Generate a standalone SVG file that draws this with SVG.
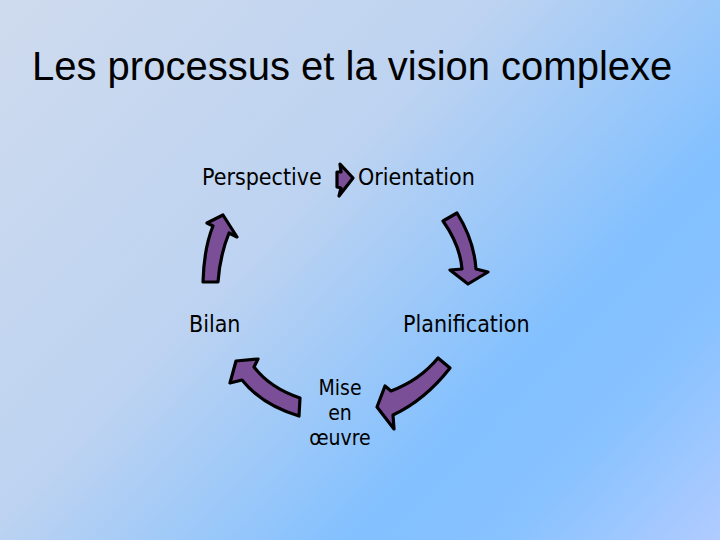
<svg xmlns="http://www.w3.org/2000/svg" width="720" height="540" viewBox="0 0 720 540">
  <defs>
    <linearGradient id="bg" gradientUnits="userSpaceOnUse" x1="0" y1="0" x2="650" y2="620">
      <stop offset="0" stop-color="#cfdbee"/>
      <stop offset="0.40" stop-color="#bdd3f1"/>
      <stop offset="0.70" stop-color="#82c0ff"/>
      <stop offset="0.82" stop-color="#88c2ff"/>
      <stop offset="1" stop-color="#b2ccff"/>
    </linearGradient>
    <style>
      .lbl { font-family: "DejaVu Sans Condensed", "DejaVu Sans", Tahoma, sans-serif; font-size: 23px; fill: #000; }
      .stack { font-size: 21px; }
      .title { font-family: "Liberation Sans", Arial, sans-serif; font-size: 40px; fill: #000; }
      .arr { fill: #7b4f98; stroke: #000; stroke-width: 3.2; stroke-linejoin: round; }
    </style>
  </defs>
  <rect x="0" y="0" width="720" height="540" fill="url(#bg)"/>
  <text class="title" x="32" y="80">Les processus et la vision complexe</text>

  <g id="perspective"><text class="lbl" x="202" y="185">Perspective</text></g>
  <g id="orientation"><text class="lbl" x="358" y="185">Orientation</text></g>
  <g id="planification"><text class="lbl" x="403" y="332">Planification</text></g>
  <g id="mise-en-oeuvre">
    <text class="lbl stack" x="340" y="395" text-anchor="middle">Mise</text>
    <text class="lbl stack" x="340" y="420" text-anchor="middle">en</text>
    <text class="lbl stack" x="340" y="445" text-anchor="middle">œuvre</text>
  </g>
  <g id="bilan"><text class="lbl" x="189" y="332">Bilan</text></g>

  <g id="connectors">
    <path class="arr" d="M340,164 L353,178 L339,196 L341,188 L337,187 L337,172 L341,172 Z"/>
    <path class="arr" d="M443,221 L457,213 Q474,240 476,269 L488,272 L468,284 L450,270 L462,269 Q460,245 443,221 Z"/>
    <path class="arr" d="M438,358 L450,368 Q425,400 393,415 L394,429 L377,407 L385,386 L391,391 Q420,380 438,358 Z"/>
    <path class="arr" d="M300,398 Q270,388 254,367 L258,359 L236,361 L230,383 L242,380 Q262,405 299,416 Z"/>
    <path class="arr" d="M203,282 Q204,248 213,226 L207,223 L223,215 L237,237 L229,233 Q220,255 218,282 Z"/>
  </g>
</svg>
